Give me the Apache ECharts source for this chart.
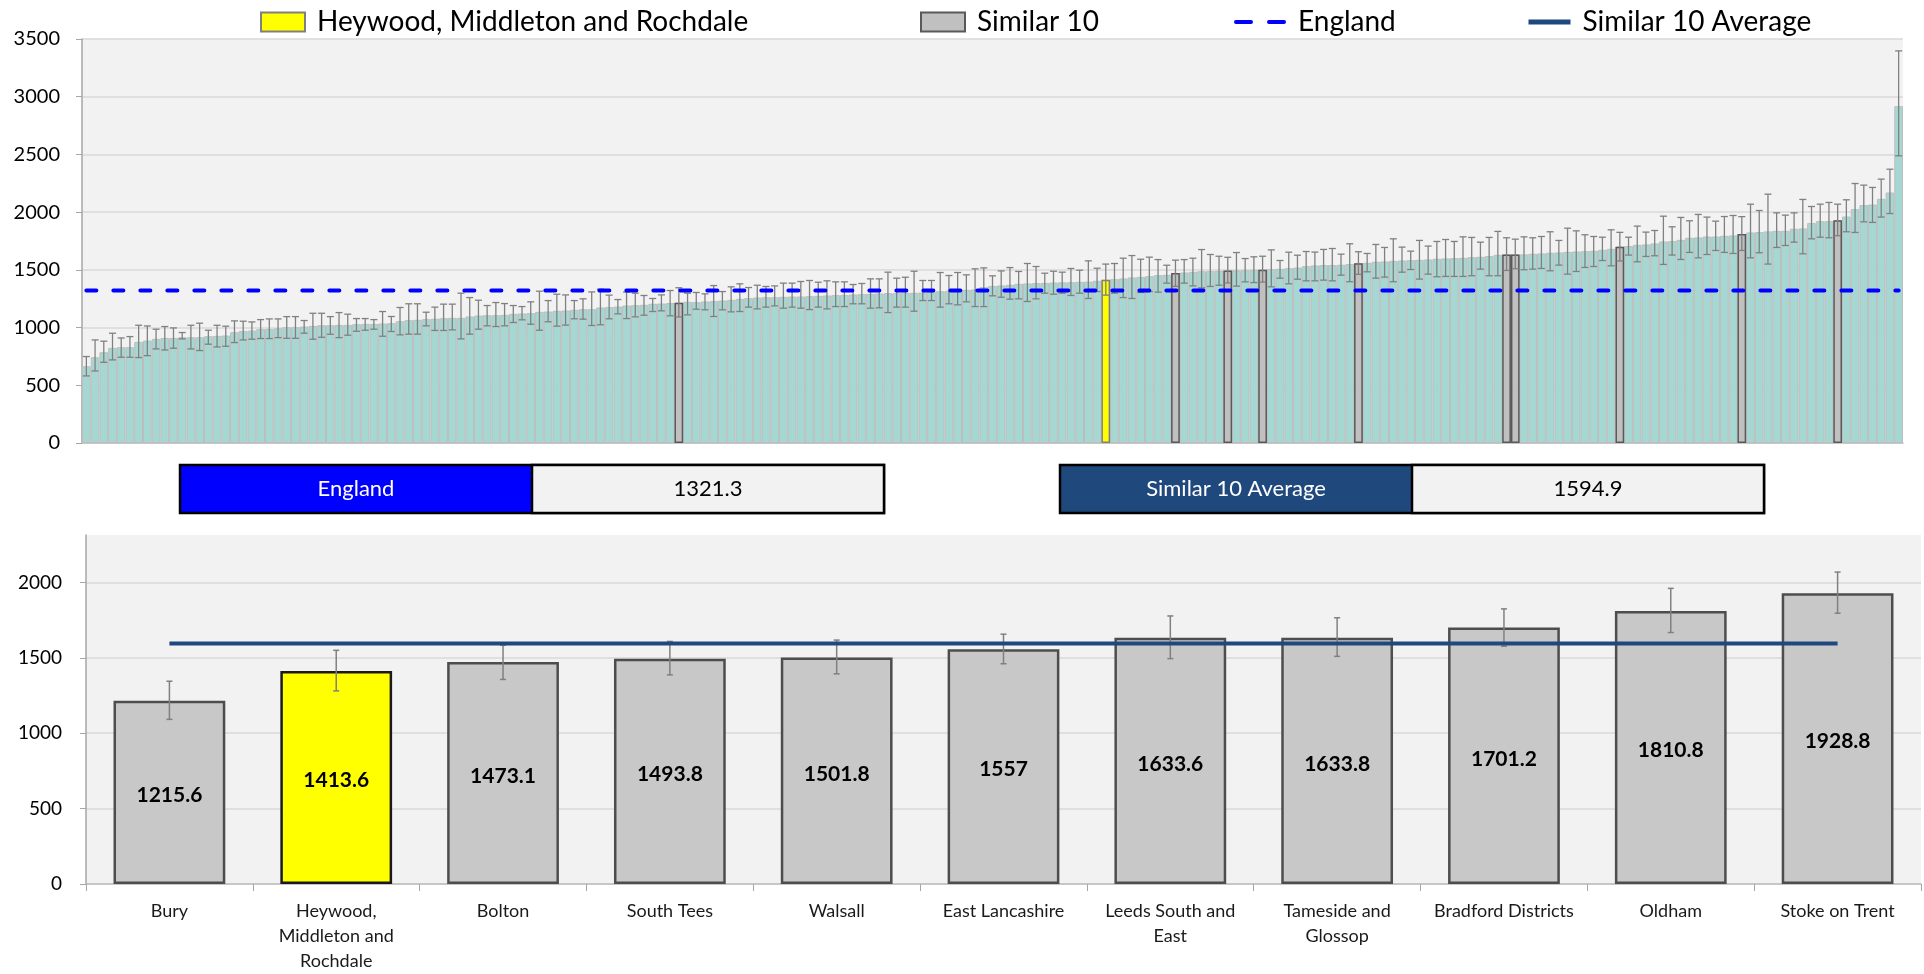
<!DOCTYPE html>
<html>
<head>
<meta charset="utf-8">
<title>Heywood, Middleton and Rochdale - Similar 10</title>
<script src="https://cdn.jsdelivr.net/npm/echarts@6/dist/echarts.min.js"></script>
<style>
html, body { margin: 0; padding: 0; background: #fff; }
#chart { width: 1924px; height: 974px; }
</style>
</head>
<body>
<div id="chart"></div>
<script>
// every CCG in England, ranked low to high, with lower / upper confidence limits
var ccgValues = [
  665, 743, 786, 824, 830, 830, 876, 887, 902, 910, 910, 916, 916, 916, 925, 928, 931, 960, 971, 974,
  986, 988, 994, 1003, 1003, 1009, 1014, 1020, 1020, 1023, 1023, 1029, 1032, 1032, 1035,
  1038, 1055, 1064, 1067, 1073, 1076, 1081, 1084, 1084, 1096, 1104, 1107, 1107, 1110, 1119, 1122, 1125, 1136, 1139, 1145,
  1148, 1154, 1159, 1159, 1174, 1177, 1182, 1191, 1194, 1197, 1206, 1208, 1212, 1215.6, 1223,
  1220, 1226, 1229, 1234, 1240, 1249, 1255, 1260, 1263, 1263, 1266, 1269, 1269, 1272, 1275, 1278, 1281, 1283, 1286, 1289,
  1292, 1295, 1298, 1298, 1301, 1301, 1304, 1307, 1315, 1318, 1321, 1327, 1330, 1350, 1360,
  1365, 1370, 1379, 1382, 1385, 1387, 1390, 1392, 1393, 1396, 1398, 1405, 1413.6, 1419, 1425, 1434, 1439, 1445, 1454, 1457,
  1473.1, 1477, 1483, 1488, 1489, 1492, 1493.8, 1495, 1497, 1500, 1501.8, 1506, 1509, 1514, 1520,
  1532, 1538, 1541, 1541, 1544, 1550, 1557, 1561, 1570, 1573, 1578, 1581, 1584, 1587, 1590, 1596, 1599, 1602, 1604, 1610,
  1613, 1619, 1630, 1633.6, 1633.8, 1634, 1639, 1642, 1648, 1651, 1656, 1659, 1662, 1665, 1674,
  1682, 1701.2, 1706, 1717, 1720, 1729, 1746, 1749, 1760, 1778, 1781, 1789, 1789, 1795, 1798, 1810.8, 1824, 1827, 1833, 1838,
  1838, 1856, 1859, 1905, 1922, 1922, 1928.8, 1962, 2026, 2061, 2066, 2115, 2170, 2918
];
var ccgLower = [
  581, 624, 699, 720, 743, 743, 740, 757, 815, 806, 821, 902, 815, 801, 856, 832, 838, 870, 893, 899,
  905, 905, 913, 907, 907, 951, 899, 916, 942, 913, 934, 968, 977, 986, 925,
  966, 937, 943, 943, 1015, 975, 975, 980, 902, 943, 986, 1015, 1009, 1015, 1044, 1067, 1029, 977, 1050, 1012,
  1021, 1076, 1073, 1018, 1024, 1076, 1119, 1078, 1093, 1107, 1139, 1145, 1102, 1092, 1110,
  1159, 1154, 1096, 1154, 1136, 1139, 1177, 1162, 1177, 1188, 1168, 1177, 1168, 1156, 1177, 1162, 1182, 1182, 1206, 1206,
  1168, 1171, 1130, 1177, 1177, 1142, 1234, 1234, 1177, 1206, 1197, 1223, 1182, 1182, 1275,
  1263, 1246, 1249, 1226, 1249, 1298, 1289, 1298, 1278, 1298, 1252, 1312, 1281, 1298, 1260, 1252, 1304, 1312, 1307, 1385,
  1357, 1385, 1361, 1344, 1356, 1367, 1387, 1359, 1396, 1390, 1394, 1353, 1428, 1379, 1419,
  1405, 1405, 1411, 1405, 1454, 1397, 1461, 1483, 1428, 1437, 1397, 1480, 1503, 1420, 1463, 1440, 1443, 1443, 1443, 1449,
  1506, 1449, 1449, 1495, 1510, 1501, 1506, 1512, 1492, 1541, 1463, 1486, 1521, 1529, 1581,
  1535, 1577, 1628, 1570, 1616, 1622, 1547, 1628, 1590, 1651, 1604, 1633, 1668, 1651, 1642, 1668, 1604, 1648, 1550, 1694,
  1711, 1740, 1639, 1769, 1783, 1778, 1796, 1830, 1824, 1916, 1911, 1957, 1988, 2488
];
var ccgUpper = [
  749, 893, 882, 951, 910, 922, 1020, 1014, 986, 1009, 997, 957, 1020, 1038, 977, 1020, 1012, 1058, 1055, 1049,
  1069, 1075, 1075, 1095, 1095, 1061, 1124, 1124, 1095, 1130, 1116, 1078, 1078, 1069, 1139,
  1096, 1174, 1206, 1206, 1133, 1177, 1203, 1203, 1298, 1260, 1237, 1191, 1217, 1208, 1191, 1182, 1223, 1315, 1234, 1289,
  1283, 1234, 1249, 1309, 1333, 1281, 1243, 1307, 1298, 1278, 1252, 1283, 1321, 1345, 1298,
  1304, 1292, 1364, 1312, 1353, 1379, 1347, 1367, 1356, 1361, 1385, 1385, 1399, 1408, 1393, 1405, 1396, 1396, 1373, 1382,
  1422, 1422, 1480, 1428, 1436, 1488, 1408, 1408, 1477, 1451, 1477, 1457, 1509, 1517, 1448,
  1491, 1520, 1486, 1555, 1529, 1471, 1488, 1480, 1512, 1497, 1578, 1514, 1550, 1555, 1601, 1624, 1592, 1610, 1589, 1540,
  1584, 1589, 1601, 1676, 1633, 1618, 1609, 1650, 1598, 1613, 1618, 1673, 1581, 1653, 1627,
  1659, 1654, 1677, 1685, 1636, 1726, 1657, 1642, 1720, 1694, 1769, 1697, 1662, 1755, 1706, 1746, 1763, 1746, 1786, 1781,
  1740, 1781, 1833, 1778, 1766, 1786, 1778, 1789, 1830, 1755, 1861, 1838, 1804, 1789, 1783,
  1847, 1825, 1783, 1879, 1827, 1841, 1965, 1873, 1954, 1925, 1980, 1957, 1922, 1962, 1971, 1961, 2069, 2014, 2156, 1994,
  1974, 1994, 2110, 2049, 2069, 2084, 2069, 2107, 2248, 2234, 2214, 2286, 2372, 3397
];

// the selected CCG and its 10 most similar, as in the lower chart
var similarNames = ['Bury', 'Heywood,\nMiddleton and\nRochdale', 'Bolton', 'South Tees', 'Walsall', 'East Lancashire',
  'Leeds South and\nEast', 'Tameside and\nGlossop', 'Bradford Districts', 'Oldham', 'Stoke on Trent'];
var similarValues = [1215.6, 1413.6, 1473.1, 1493.8, 1501.8, 1557, 1633.6, 1633.8, 1701.2, 1810.8, 1928.8];
var similarLower = [1092, 1281, 1357, 1387, 1394, 1461, 1495, 1510, 1577, 1668, 1796];
var similarUpper = [1345, 1550, 1584, 1609, 1618, 1657, 1778, 1766, 1825, 1961, 2069];
// position of each one in the national ranking above (0 based)
var similarRank = [68, 117, 125, 131, 135, 146, 163, 164, 176, 190, 201];
var selectedPos = 1;

var englandValue = 1321.3;
var similarAverage = 1594.9;

var topTicks = [0, 500, 1000, 1500, 2000, 2500, 3000, 3500];
var bottomTicks = [0, 500, 1000, 1500, 2000];
var bottomMax = 2315;

var FONT = 'Lato';
var TEAL = '#a6d8d3';
var GREY_BAR = '#c8c8c8';
var YELLOW = '#ffff00';
var ENG_BLUE = '#0000ff';
var AVG_BLUE = '#1f497d';

var myChart = echarts.init(document.getElementById('chart'));

// split the national bars into "other", "similar 10" and "selected"
var rankToPos = {};
similarRank.forEach(function (r, i) { rankToPos[r] = i; });
var similarTop = ccgValues.map(function (v, r) {
  var p = rankToPos[r];
  return (p !== undefined && p !== selectedPos) ? v : '-';
});
var selectedTop = ccgValues.map(function (v, r) {
  return r === similarRank[selectedPos] ? v : '-';
});
var ranks = ccgValues.map(function (v, i) { return String(i + 1); });

function errorBars(capHalf, width) {
  return function (params, api) {
    var x = api.value(0);
    var lo = api.coord([x, api.value(1)]);
    var hi = api.coord([x, api.value(2)]);
    var st = { stroke: '#808080', lineWidth: width };
    return {
      type: 'group',
      children: [
        { type: 'line', shape: { x1: hi[0], y1: hi[1], x2: lo[0], y2: lo[1] }, style: st },
        { type: 'line', shape: { x1: hi[0] - capHalf, y1: hi[1], x2: hi[0] + capHalf, y2: hi[1] }, style: st },
        { type: 'line', shape: { x1: lo[0] - capHalf, y1: lo[1], x2: lo[0] + capHalf, y2: lo[1] }, style: st }
      ]
    };
  };
}

function box(x, w, label, value, fill) {
  return [
    { type: 'rect', shape: { x: x, y: 465, width: w, height: 48 }, style: { fill: fill, stroke: '#000', lineWidth: 2.5 } },
    { type: 'text', x: x + w / 4, y: 489, style: { text: label, fill: '#fff', font: '22px ' + FONT, align: 'center', verticalAlign: 'middle' } },
    { type: 'rect', shape: { x: x + w / 2, y: 465, width: w / 2, height: 48 }, style: { fill: '#f2f2f2', stroke: '#000', lineWidth: 2.5 } },
    { type: 'text', x: x + w * 3 / 4, y: 489, style: { text: value, fill: '#000', font: '22px ' + FONT, align: 'center', verticalAlign: 'middle' } }
  ];
}

var legendText = { fontFamily: FONT, fontSize: 28, color: '#000', padding: [0, 0, 0, 7] };
function legendAt(left, w, h, item) {
  return { left: left, top: 8, padding: 0, itemWidth: w, itemHeight: h, textStyle: legendText, selectedMode: false, data: [item] };
}

var option = {
  animation: false,
  textStyle: { fontFamily: FONT },
  legend: [
    legendAt(260, 44, 19, { name: 'Heywood, Middleton and Rochdale', icon: 'rect' }),
    legendAt(920, 44, 19, { name: 'Similar 10', icon: 'rect' }),
    legendAt(1234, 50, 14, { name: 'England', itemStyle: { opacity: 0 },
      lineStyle: { type: [15, 18], cap: 'round', width: 4, color: ENG_BLUE } }),
    legendAt(1526, 42, 14, { name: 'Similar 10 Average', itemStyle: { opacity: 0 },
      lineStyle: { width: 5, color: AVG_BLUE } })
  ],
  grid: [
    { left: 82, top: 39, width: 1821, height: 404, show: true, backgroundColor: '#f2f2f2', borderWidth: 0 },
    { left: 86, top: 535, width: 1835, height: 352, show: true, backgroundColor: '#f2f2f2', borderWidth: 0 }
  ],
  xAxis: [
    { type: 'category', gridIndex: 0, data: ranks,
      axisLine: { lineStyle: { color: '#bfbfbf', width: 1.5 } }, axisTick: { show: false }, axisLabel: { show: false } },
    { type: 'category', gridIndex: 1, data: similarNames,
      axisLine: { lineStyle: { color: '#bfbfbf', width: 1.5 } },
      axisTick: { show: true, length: 7, lineStyle: { color: '#a6a6a6' } },
      axisLabel: { interval: 0, margin: 15, color: '#1a1a1a', fontSize: 18, lineHeight: 25, fontFamily: FONT } }
  ],
  yAxis: [
    { type: 'value', gridIndex: 0, min: topTicks[0], max: topTicks[topTicks.length - 1], interval: topTicks[1] - topTicks[0],
      axisLine: { show: true, lineStyle: { color: '#a6a6a6', width: 1.5 } },
      axisTick: { show: true, length: 6, lineStyle: { color: '#a6a6a6' } },
      axisLabel: { margin: 22, fontSize: 20, color: '#000', fontFamily: FONT,
        formatter: function (v) { return String(v); } },
      splitLine: { lineStyle: { color: '#d9d9d9', width: 1.5 } } },
    { type: 'value', gridIndex: 1, min: bottomTicks[0], max: bottomMax, interval: bottomTicks[1] - bottomTicks[0],
      axisLine: { show: true, lineStyle: { color: '#a6a6a6', width: 1.5 } },
      axisTick: { show: true, length: 6, lineStyle: { color: '#a6a6a6' } },
      axisLabel: { margin: 24, fontSize: 19, color: '#000', fontFamily: FONT, showMaxLabel: false,
        formatter: function (v) { return bottomTicks.indexOf(v) >= 0 ? String(v) : ''; } },
      splitLine: { showMaxLine: false, lineStyle: { color: '#d9d9d9', width: 1.5 } } }
  ],
  series: [
    { name: 'All CCGs', type: 'bar', xAxisIndex: 0, yAxisIndex: 0, barCategoryGap: '0%', barGap: '-100%',
      itemStyle: { color: TEAL, borderColor: '#bdbdbd', borderWidth: 1 }, data: ccgValues },
    { name: 'Similar 10', type: 'bar', xAxisIndex: 0, yAxisIndex: 0, barCategoryGap: '0%', barGap: '-100%',
      itemStyle: { color: '#c0c0c0', borderColor: '#595959', borderWidth: 1.5 }, data: similarTop },
    { name: 'Heywood, Middleton and Rochdale', type: 'bar', xAxisIndex: 0, yAxisIndex: 0, barCategoryGap: '0%', barGap: '-100%',
      itemStyle: { color: YELLOW, borderColor: '#7f7f7f', borderWidth: 1.5 }, data: selectedTop },
    { name: 'CI all', type: 'custom', xAxisIndex: 0, yAxisIndex: 0, z: 5,
      renderItem: errorBars(3.5, 1.3),
      data: ccgValues.map(function (v, i) { return [i, ccgLower[i], ccgUpper[i]]; }) },
    { name: 'England', type: 'line', xAxisIndex: 0, yAxisIndex: 0, z: 6, symbol: 'none',
      itemStyle: { color: ENG_BLUE },
      lineStyle: { color: ENG_BLUE, width: 4, type: [10, 17], cap: 'round' },
      data: ccgValues.map(function () { return englandValue; }) },

    { name: 'Similar bars', type: 'bar', xAxisIndex: 1, yAxisIndex: 1, barCategoryGap: '33%',
      label: { show: true, position: 'inside', offset: [0, 3], color: '#000', fontWeight: 'bold', fontSize: 21, fontFamily: FONT },
      itemStyle: { color: GREY_BAR, borderColor: '#4d4d4d', borderWidth: 2.5 },
      data: similarValues.map(function (v, i) {
        return i === selectedPos ? { value: v, itemStyle: { color: YELLOW, borderColor: '#1a1a1a' } } : v;
      }) },
    { name: 'CI similar', type: 'custom', xAxisIndex: 1, yAxisIndex: 1, z: 5,
      renderItem: errorBars(3, 1.5),
      data: similarValues.map(function (v, i) { return [i, similarLower[i], similarUpper[i]]; }) },
    { name: 'Similar 10 Average', type: 'line', xAxisIndex: 1, yAxisIndex: 1, z: 6, symbol: 'none',
      itemStyle: { color: AVG_BLUE },
      lineStyle: { color: AVG_BLUE, width: 4 },
      data: similarNames.map(function () { return similarAverage; }) }
  ],
  graphic: box(180, 704, 'England', englandValue.toFixed(1), ENG_BLUE)
    .concat(box(1060, 704, 'Similar 10 Average', similarAverage.toFixed(1), AVG_BLUE))
};

myChart.setOption(option);
window.addEventListener('resize', myChart.resize);
</script>
</body>
</html>
